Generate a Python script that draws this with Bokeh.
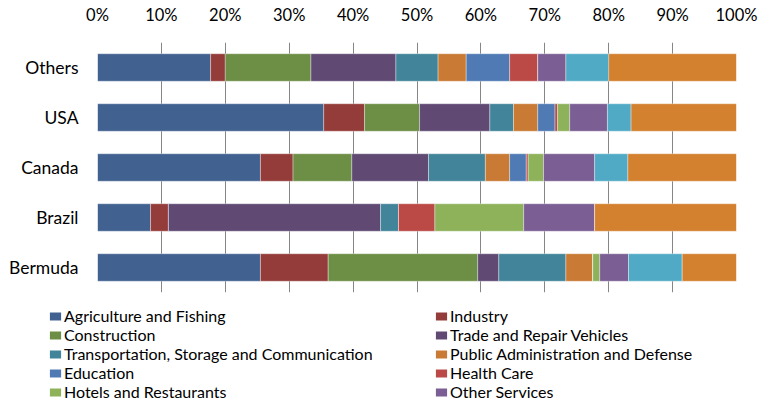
from bokeh.plotting import figure
from bokeh.models import (Range1d, FactorRange, FixedTicker, PrintfTickFormatter,
                          Legend, LegendItem)
from bokeh.layouts import column
from bokeh.embed import file_html
from bokeh.resources import INLINE

countries = ["Bermuda", "Brazil", "Canada", "USA", "Others"]

series_names = [
    "Agriculture and Fishing", "Industry", "Construction", "Trade and Repair Vehicles",
    "Transportation, Storage and Communication", "Public Administration and Defense",
    "Education", "Health Care", "Hotels and Restaurants", "Other Services",
    "Series 11", "Series 12",
]
legend_shown = 10

# values in percent, order matches countries
agriculture = [25.5, 8.3, 25.5, 35.4, 17.7]
industry = [10.6, 2.8, 5.1, 6.4, 2.3]
construction = [23.4, 0.0, 9.2, 8.6, 13.4]
trade = [3.3, 33.2, 12.0, 11.0, 13.3]
transportation = [10.5, 2.8, 8.9, 3.7, 6.6]
public_admin = [4.2, 0.0, 3.8, 3.8, 4.4]
education = [0.0, 0.0, 2.6, 2.7, 6.8]
health = [0.0, 5.7, 0.3, 0.4, 4.4]
hotels = [1.1, 13.9, 2.4, 1.9, 0.0]
other_services = [4.5, 11.1, 8.0, 5.9, 4.4]
series_11 = [8.4, 0.0, 5.2, 3.7, 6.7]
series_12 = [8.5, 22.2, 17.0, 16.5, 20.0]

x_ticks = [0, 10, 20, 30, 40, 50, 60, 70, 80, 90, 100]

colors = ["#416290", "#943C39", "#6C8E45", "#604A73", "#42849A", "#C97A34",
          "#4F7AB4", "#BB4A47", "#8DB25A", "#7B5F94", "#51AAC5", "#D4812F"]

all_values = [agriculture, industry, construction, trade, transportation, public_admin,
              education, health, hotels, other_services, series_11, series_12]

data = {"country": countries}
for name, vals in zip(series_names, all_values):
    data[name] = vals

FONT = "Lato"
W = 760
H1, H2 = 300, 101
LEFT, RIGHT, TOP, BOTTOM = 97, 24, 42, 8

p = figure(width=W, height=H1, output_backend="svg", toolbar_location=None,
           y_range=FactorRange(factors=countries, range_padding=0),
           x_range=Range1d(0, 100), x_axis_location="above",
           min_border_left=LEFT, min_border_right=RIGHT,
           min_border_top=TOP, min_border_bottom=BOTTOM)
p.frame_align = False
p.outline_line_color = None
p.background_fill_color = "white"
p.border_fill_color = "white"

renderers = p.hbar_stack(series_names, y="country", height=0.55, source=data,
                         color=colors, line_color="white", line_alpha=0.35, line_width=1)

p.xgrid.ticker = FixedTicker(ticks=x_ticks)
p.xgrid.grid_line_color = "#868686"
p.xgrid.grid_line_width = 1
p.ygrid.grid_line_color = None

xa = p.xaxis[0]
xa.ticker = FixedTicker(ticks=x_ticks)
xa.formatter = PrintfTickFormatter(format="%d%%")
xa.axis_line_color = None
xa.major_tick_line_color = None
xa.minor_tick_line_color = None
xa.major_tick_out = 0
xa.major_tick_in = 0
xa.major_label_standoff = 18
xa.major_label_text_font = FONT
xa.major_label_text_font_size = "16.5px"
xa.major_label_text_color = "#000000"

ya = p.yaxis[0]
ya.axis_line_color = None
ya.major_tick_line_color = None
ya.major_tick_out = 0
ya.major_tick_in = 0
ya.major_label_standoff = 19
ya.major_label_text_font = FONT
ya.major_label_text_font_size = "17.5px"
ya.major_label_text_color = "#000000"

# legend panel below the chart
p2 = figure(width=W, height=H2, output_backend="svg", toolbar_location=None,
            x_range=Range1d(0, 1), y_range=Range1d(0, 1),
            x_axis_location=None, y_axis_location=None,
            min_border=0, min_border_left=0, min_border_right=0,
            min_border_top=0, min_border_bottom=0)
p2.frame_align = False
p2.outline_line_color = None
p2.grid.grid_line_color = None
p2.background_fill_color = "white"
p2.border_fill_color = "white"

# invisible proxies (zero-width bars below the visible range) that carry the legend swatches
legend_renderers = []
for i in range(legend_shown):
    r = p2.hbar(y=[-10], left=[0], right=[0], height=0.5, fill_color=colors[i], line_color=None)
    legend_renderers.append(r)

for col, xloc in ((0, 48), (1, 434)):
    items = [LegendItem(label=series_names[i], renderers=[legend_renderers[i]])
             for i in range(col, legend_shown, 2)]
    leg = Legend(items=items, location=(xloc, 0), orientation="vertical",
                 padding=0, margin=0, spacing=0, border_line_color=None,
                 background_fill_alpha=0, glyph_width=14, glyph_height=10,
                 label_standoff=2, label_height=18,
                 label_text_font=FONT, label_text_font_size="16px",
                 label_text_color="#000000", label_text_baseline="middle")
    p2.add_layout(leg, "center")

open("out.html", "w").write(file_html(column(p, p2, spacing=0), INLINE))
